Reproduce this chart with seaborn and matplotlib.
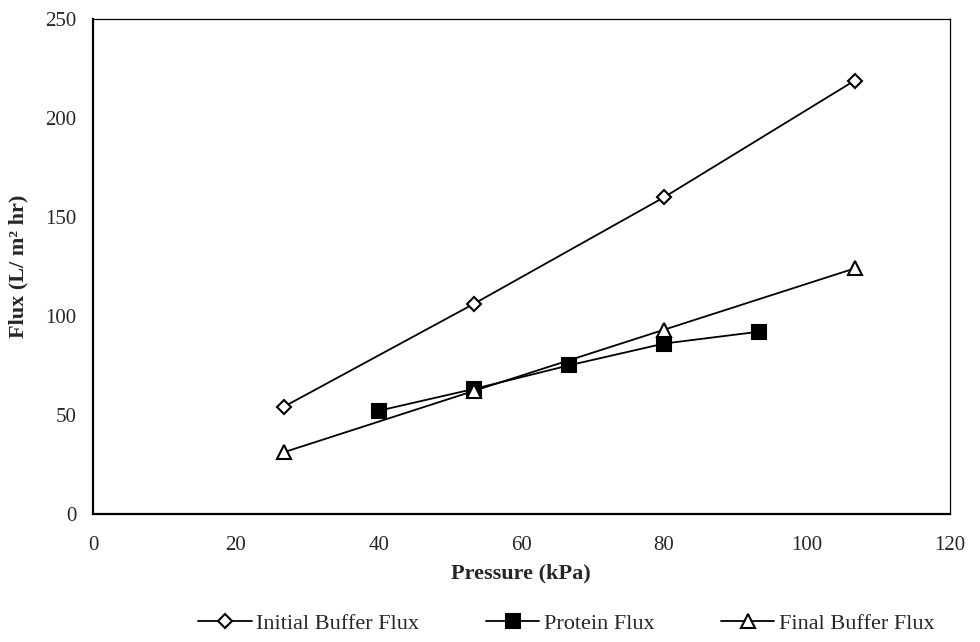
import matplotlib
matplotlib.use("Agg")
import matplotlib.pyplot as plt
import seaborn as sns
import pandas as pd

# Transmembrane pressure (kPa) and permeate flux (L/m² hr)
buffer_pressure = [26.7, 53.3, 80.0, 106.7]
initial_buffer_flux = [54, 106, 160, 219]
final_buffer_flux = [31, 62, 93, 124]

protein_pressure = [40.0, 53.3, 66.7, 80.0, 93.3]
protein_flux = [52, 63, 75, 86, 92]

series_names = ["Initial Buffer Flux", "Protein Flux", "Final Buffer Flux"]
x_ticks = [0, 20, 40, 60, 80, 100, 120]
y_ticks = [0, 50, 100, 150, 200, 250]

sns.set_style("white")
plt.rcParams["font.family"] = ["Liberation Serif", "DejaVu Serif"]

fig = plt.figure(figsize=(9.8, 6.42), dpi=100)
ax = fig.add_axes([0.095, 0.2, 0.874, 0.77])

df = pd.concat([
    pd.DataFrame({"Pressure": buffer_pressure, "Flux": initial_buffer_flux,
                  "Series": series_names[0]}),
    pd.DataFrame({"Pressure": protein_pressure, "Flux": protein_flux,
                  "Series": series_names[1]}),
    pd.DataFrame({"Pressure": buffer_pressure, "Flux": final_buffer_flux,
                  "Series": series_names[2]}),
])

styles = {
    series_names[0]: dict(marker="D", markersize=7.5, markerfacecolor="white"),
    series_names[1]: dict(marker="s", markersize=9.5, markerfacecolor="black"),
    series_names[2]: dict(marker="^", markersize=10.5, markerfacecolor="white"),
}

for name in series_names:
    sub = df[df["Series"] == name]
    sns.lineplot(data=sub, x="Pressure", y="Flux", ax=ax, color="black",
                 linewidth=1.3, markeredgecolor="black", markeredgewidth=1.5,
                 label=name, **styles[name])

ax.set_xlim(0, 120)
ax.set_ylim(0, 250)
ax.set_xticks(x_ticks)
ax.set_yticks(y_ticks)
ax.tick_params(axis="both", labelsize=15, length=2, color="black")
ax.tick_params(axis="x", pad=14)
ax.tick_params(axis="y", pad=10)

for side in ["left", "bottom"]:
    ax.spines[side].set_color("black")
    ax.spines[side].set_linewidth(1.6)
for side in ["top", "right"]:
    ax.spines[side].set_color("black")
    ax.spines[side].set_linewidth(0.9)

ax.set_xlabel("Pressure (kPa)", fontsize=16, fontweight="bold", labelpad=6)
ax.set_ylabel("Flux (L/ m² hr)", fontsize=16, fontweight="bold", labelpad=12)

handles, labels = ax.get_legend_handles_labels()
ax.get_legend().remove()
fig.legend(handles, labels, loc="lower center", bbox_to_anchor=(0.578, -0.018),
           ncol=3, frameon=False, fontsize=16, handlelength=2.4,
           columnspacing=3.0, handletextpad=0.2)

fig.savefig("out.png", dpi=100, facecolor="white")
